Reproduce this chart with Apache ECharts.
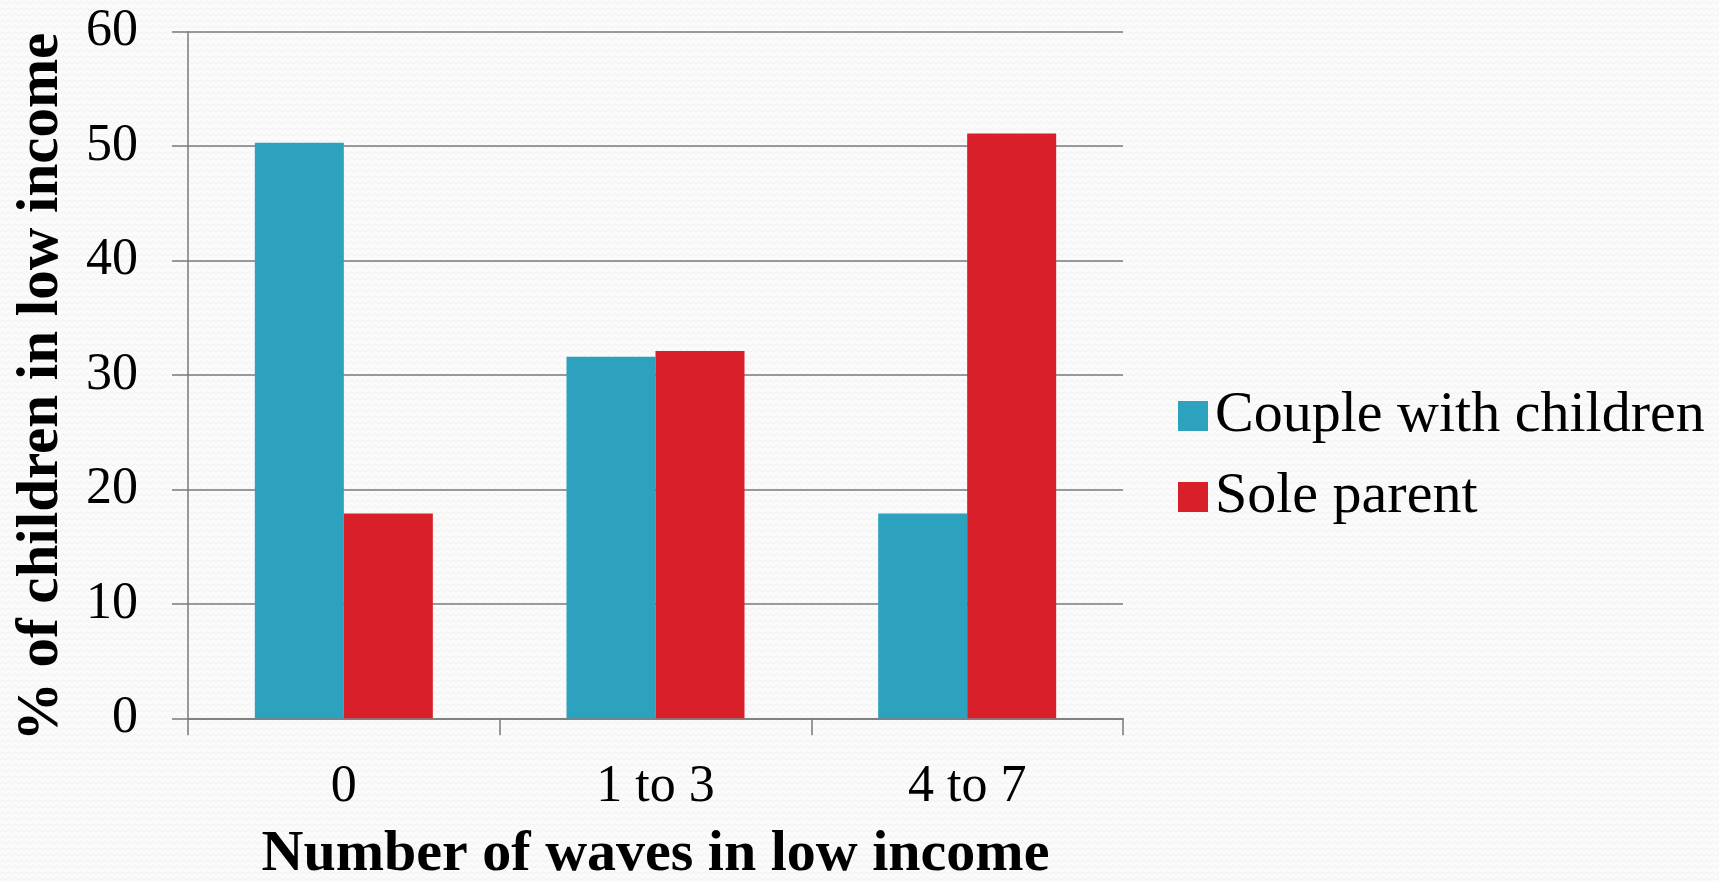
<!DOCTYPE html>
<html>
<head>
<meta charset="utf-8">
<script src="https://cdn.jsdelivr.net/npm/echarts@6/dist/echarts.min.js"></script>
<style>
html,body{margin:0;padding:0;background:#fafafa;}
#main{width:1719px;height:882px;}
</style>
</head>
<body>
<div id="main"></div>
<script>
var categories = ['0', '1 to 3', '4 to 7'];
var coupleWithChildren = [50.3, 31.6, 17.9];
var soleParent = [17.9, 32.1, 51.1];
var yTicks = [0, 10, 20, 30, 40, 50, 60];

// faint zig-zag background texture
var pc = document.createElement('canvas');
pc.width = 12; pc.height = 6;
var g = pc.getContext('2d');
g.fillStyle = '#fbfbfb';
g.fillRect(0, 0, 12, 6);
g.strokeStyle = '#eeeeee';
g.lineWidth = 1;
g.beginPath();
g.moveTo(0, 4.5); g.lineTo(3, 1.5); g.lineTo(6, 4.5); g.lineTo(9, 1.5); g.lineTo(12, 4.5);
g.stroke();

var serif = '"Liberation Serif", "DejaVu Serif", serif';
var chart = echarts.init(document.getElementById('main'), null, {renderer: 'canvas'});
chart.setOption({
  backgroundColor: {image: pc, repeat: 'repeat'},
  animation: false,
  grid: {left: 188, right: 596, top: 31.7, bottom: 163.7, containLabel: false, outerBoundsMode: 'none'},
  legend: {
    orient: 'vertical',
    left: 1173,
    top: 382,
    itemWidth: 30,
    itemHeight: 30,
    itemGap: 23,
    icon: 'rect',
    textStyle: {fontFamily: serif, fontSize: 58, color: '#000', padding: [0, 0, 0, 2]},
    data: ['Couple with children', 'Sole parent']
  },
  xAxis: {
    type: 'category',
    data: categories,
    name: 'Number of waves in low income',
    nameLocation: 'middle',
    nameGap: 108,
    nameTextStyle: {fontFamily: serif, fontSize: 58, fontWeight: 'bold', color: '#000'},
    axisLine: {lineStyle: {color: '#7a7a7a', width: 1.5}},
    axisTick: {show: true, length: 17, lineStyle: {color: '#7a7a7a', width: 1.5}},
    axisLabel: {fontFamily: serif, fontSize: 52, color: '#000', margin: 43},
    splitLine: {show: false}
  },
  yAxis: {
    type: 'value',
    min: yTicks[0],
    max: yTicks[yTicks.length - 1],
    interval: yTicks[1] - yTicks[0],
    name: '% of children in low income',
    nameLocation: 'middle',
    nameGap: 117,
    nameTextStyle: {fontFamily: serif, fontSize: 59, fontWeight: 'bold', color: '#000', padding: [0, 24, 0, 0]},
    axisLine: {show: true, lineStyle: {color: '#7a7a7a', width: 1.5}},
    axisTick: {show: true, length: 16, lineStyle: {color: '#7a7a7a', width: 1.5}},
    axisLabel: {fontFamily: serif, fontSize: 52, color: '#000', margin: 50},
    splitLine: {show: true, lineStyle: {color: '#7a7a7a', width: 1.5}}
  },
  series: [
    {
      name: 'Couple with children',
      type: 'bar',
      data: coupleWithChildren,
      barWidth: 89,
      barGap: '0%',
      itemStyle: {color: '#2DA2BF'}
    },
    {
      name: 'Sole parent',
      type: 'bar',
      data: soleParent,
      barWidth: 89,
      barGap: '0%',
      itemStyle: {color: '#D91F29'}
    }
  ]
});
</script>
</body>
</html>
